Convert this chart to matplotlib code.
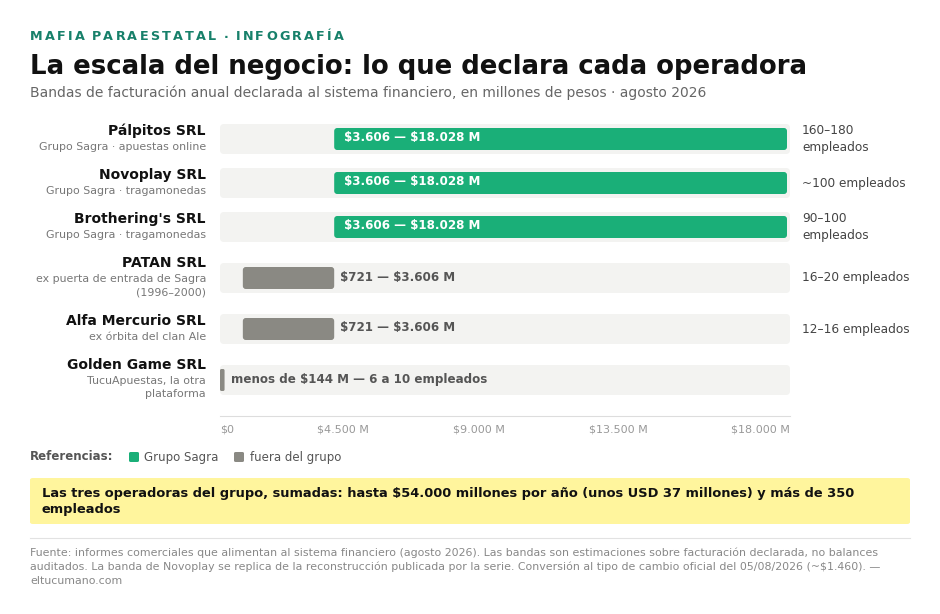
import matplotlib
matplotlib.use("Agg")
import matplotlib.pyplot as plt
from matplotlib.patches import FancyBboxPatch

plt.rcParams["font.family"] = ["DejaVu Sans"]
plt.rcParams["text.parse_math"] = False

names = ["Pálpitos SRL", "Novoplay SRL", "Brothering's SRL", "PATAN SRL", "Alfa Mercurio SRL", "Golden Game SRL"]
subs = ["Grupo Sagra · apuestas online", "Grupo Sagra · tragamonedas", "Grupo Sagra · tragamonedas",
        "ex puerta de entrada de Sagra\n(1996–2000)", "ex órbita del clan Ale", "TucuApuestas, la otra\nplataforma"]
lows = [3606, 3606, 3606, 721, 721, 0]
highs = [18028, 18028, 18028, 3606, 3606, 144]
in_group = [True, True, True, False, False, False]
bar_labels = ["$3.606 — $18.028 M", "$3.606 — $18.028 M", "$3.606 — $18.028 M",
              "$721 — $3.606 M", "$721 — $3.606 M", "menos de $144 M — 6 a 10 empleados"]
employees = ["160–180\nempleados", "~100 empleados", "90–100\nempleados", "16–20 empleados", "12–16 empleados", ""]
tick_labels = ["$0", "$4.500 M", "$9.000 M", "$13.500 M", "$18.000 M"]

row_y = [139, 183, 227, 278, 329, 380]  # layout positions (pixels)
W, H = 940, 614
fig = plt.figure(figsize=(9.4, 6.14), dpi=100)
GREEN, GRAY, TRACK = "#1aaf78", "#8a8983", "#f3f3f1"

ax_l, ax_r, ax_t, ax_b = 220, 790, 122, 416
ax = fig.add_axes([ax_l / W, 1 - ax_b / H, (ax_r - ax_l) / W, (ax_b - ax_t) / H])
xmax = 18000
ax.set_xlim(0, xmax)
ax.set_ylim(ax_b, ax_t)
pxx = xmax / (ax_r - ax_l)
for s in ["top", "right", "left"]:
    ax.spines[s].set_visible(False)
ax.spines["bottom"].set_color("#dddddd")
ax.set_yticks([])
tick_px = [220, 343, 479, 618, 790]
ax.set_xticks([(p - ax_l) * pxx for p in tick_px])
ax.set_xticklabels(tick_labels, color="#999999", fontsize=8)
for lab, ha in zip(ax.get_xticklabels(), ["left", "center", "center", "center", "right"]):
    lab.set_ha(ha)
ax.tick_params(axis="x", length=0, pad=6)

def rbox(x0, x1, yc, h, color, r=4):
    p = FancyBboxPatch((x0, yc - h / 2), x1 - x0, h,
                       boxstyle=f"round,pad=0,rounding_size={r * pxx}",
                       mutation_aspect=1 / pxx, fc=color, ec="none", clip_on=False)
    ax.add_patch(p)

for i, y in enumerate(row_y):
    rbox(0, xmax, y, 30, TRACK)
    c = GREEN if in_group[i] else GRAY
    hi = min(highs[i], xmax - 3 * pxx) if in_group[i] else highs[i]
    rbox(lows[i], hi, y, 22, c, r=3 if highs[i] > 500 else 1.5)
    if in_group[i]:
        ax.text(lows[i] + 10 * pxx, y - 1, bar_labels[i], color="white", fontsize=8.6, fontweight="bold", va="center")
    else:
        ax.text(highs[i] + 6 * pxx, y - 1, bar_labels[i], color="#555555", fontsize=8.6, fontweight="bold", va="center")
    ax.text(xmax + 12 * pxx, y, employees[i], color="#444444", fontsize=8.7, va="center", clip_on=False, linespacing=1.45)
    two = "\n" in subs[i]
    fig.text(206 / W, 1 - (y - (15 if two else 8)) / H, names[i], ha="right", va="center", fontsize=10, fontweight="bold", color="#111111")
    fig.text(206 / W, 1 - (y - (4 if two else -3)) / H, subs[i], ha="right", va="top", fontsize=7.9, color="#777777", linespacing=1.4)

kicker = "MAFIA PARAESTATAL · INFOGRAFÍA"
r = fig.canvas.get_renderer()
x = 30.0
for ch in kicker:
    t = fig.text(x / W, 1 - 37 / H, ch, fontsize=9.2, fontweight="bold", color="#17806a", va="center")
    w = t.get_window_extent(r).width if ch != " " else 3.0
    x += w + 2.2
fig.text(30 / W, 1 - 67 / H, "La escala del negocio: lo que declara cada operadora", fontsize=18.7, fontweight="bold", color="#111111", va="center")
fig.text(30 / W, 1 - 93 / H, "Bandas de facturación anual declarada al sistema financiero, en millones de pesos · agosto 2026", fontsize=10, color="#666666", va="center")

fig.text(30 / W, 1 - 457 / H, "Referencias:", fontsize=8.5, fontweight="bold", color="#555555", va="center")
fig.patches.append(FancyBboxPatch((129 / W, 1 - 462 / H), 10 / W, 10 / H, boxstyle="round,pad=0,rounding_size=0.002",
                                  fc=GREEN, ec="none", transform=fig.transFigure))
fig.text(144 / W, 1 - 457 / H, "Grupo Sagra", fontsize=8.5, color="#555555", va="center")
fig.patches.append(FancyBboxPatch((234 / W, 1 - 462 / H), 10 / W, 10 / H, boxstyle="round,pad=0,rounding_size=0.002",
                                  fc=GRAY, ec="none", transform=fig.transFigure))
fig.text(250 / W, 1 - 457 / H, "fuera del grupo", fontsize=8.5, color="#555555", va="center")

fig.patches.append(FancyBboxPatch((30 / W, 1 - 524 / H), 880 / W, 46 / H, boxstyle="round,pad=0,rounding_size=0.003",
                                  fc="#fff59d", ec="none", transform=fig.transFigure))
fig.text(42 / W, 1 - 501 / H, "Las tres operadoras del grupo, sumadas: hasta $54.000 millones por año (unos USD 37 millones) y más de 350\nempleados",
         fontsize=9.4, fontweight="bold", color="#111111", va="center", linespacing=1.3)

fig.add_artist(plt.Line2D([30 / W, 910 / W], [1 - 538 / H, 1 - 538 / H], color="#e2e2e2", lw=0.8))
fig.text(30 / W, 1 - 548 / H, "Fuente: informes comerciales que alimentan al sistema financiero (agosto 2026). Las bandas son estimaciones sobre facturación declarada, no balances\nauditados. La banda de Novoplay se replica de la reconstrucción publicada por la serie. Conversión al tipo de cambio oficial del 05/08/2026 (~$1.460). —\neltucumano.com",
         fontsize=7.9, color="#888888", va="top", linespacing=1.4)

fig.savefig("out.png", dpi=100, facecolor="white")
